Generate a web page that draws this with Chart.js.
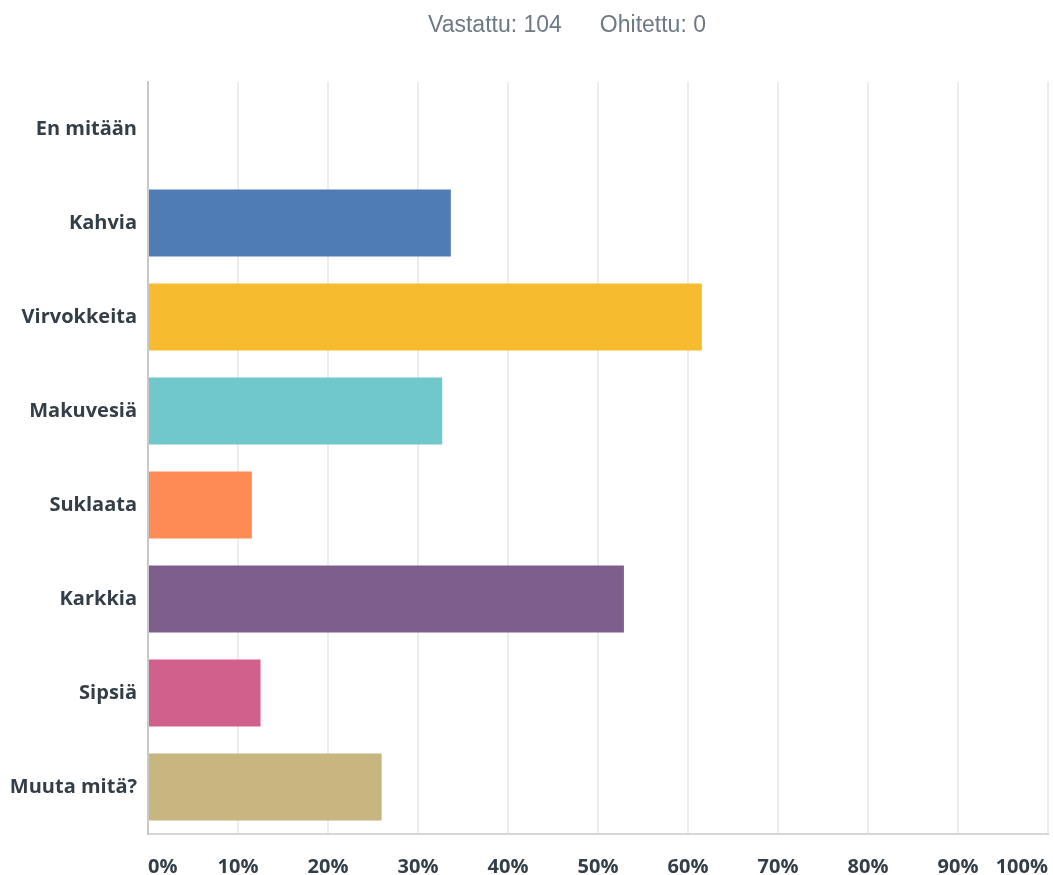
<!DOCTYPE html>
<html lang="fi">
<head>
<meta charset="utf-8">
<title>Vastaukset</title>
<script src="https://cdn.jsdelivr.net/npm/chart.js@4/dist/chart.umd.min.js"></script>
<style>
  html, body { margin: 0; padding: 0; background: #ffffff; }
  #wrap { width: 1053px; height: 875px; }
</style>
</head>
<body>
<div id="wrap"><canvas id="chart" width="1053" height="875"></canvas></div>
<script>
// Answer options
const categories = ['En mitään', 'Kahvia', 'Virvokkeita', 'Makuvesiä', 'Suklaata', 'Karkkia', 'Sipsiä', 'Muuta mitä?'];
// Share of respondents per option (%)
const percentages = [0, 33.65, 61.54, 32.69, 11.54, 52.88, 12.50, 25.96];
// One colour per option
const barColors = ['#507cb6', '#507cb6', '#f6bb2f', '#71c8cc', '#fe8b56', '#7d5e8d', '#d1618c', '#c7b67f'];
// Axis tick values
const tickValues = [0, 10, 20, 30, 40, 50, 60, 70, 80, 90, 100];
// Summary line above the chart
const summaryParts = ['Vastattu: 104', 'Ohitettu: 0'];

const summaryPlugin = {
  id: 'summary',
  afterDraw(chart) {
    const ctx = chart.ctx;
    ctx.save();
    ctx.font = '23px "Liberation Sans", Arial, sans-serif';
    ctx.fillStyle = '#6d7a85';
    ctx.textBaseline = 'alphabetic';
    ctx.textAlign = 'left';
    const gap = 38;
    const w0 = ctx.measureText(summaryParts[0]).width;
    const w1 = ctx.measureText(summaryParts[1]).width;
    const total = w0 + gap + w1;
    const cx = 567;
    const x0 = cx - total / 2;
    ctx.fillText(summaryParts[0], x0, 32);
    ctx.fillText(summaryParts[1], x0 + w0 + gap, 32);
    ctx.restore();
  }
};

const labelFont = { family: '"Open Sans", sans-serif', size: 20, weight: 'bold' };

new Chart(document.getElementById('chart'), {
  type: 'bar',
  data: {
    labels: categories,
    datasets: [{
      data: percentages,
      backgroundColor: barColors,
      borderWidth: 0,
      categoryPercentage: 1,
      barPercentage: 0.715
    }]
  },
  options: {
    indexAxis: 'y',
    responsive: false,
    animation: false,
    devicePixelRatio: 1,
    layout: { padding: { left: 0, right: 5, top: 82, bottom: 0 } },
    plugins: {
      legend: { display: false },
      tooltip: { enabled: false },
      title: { display: false }
    },
    scales: {
      x: {
        min: 0,
        max: 100,
        afterBuildTicks(axis) {
          axis.ticks = tickValues.map(v => ({ value: v }));
        },
        afterFit(axis) {
          axis.height = 41;
          axis.paddingLeft = 0;
          axis.paddingRight = 0;
        },
        grid: {
          color: '#ececec',
          lineWidth: 2,
          drawTicks: false
        },
        border: { display: true, color: '#d6d6d6', width: 2 },
        ticks: {
          align: 'inner',
          padding: 21,
          maxRotation: 0,
          autoSkip: false,
          color: '#333e48',
          font: labelFont,
          callback: v => v + '%'
        }
      },
      y: {
        afterFit(axis) {
          axis.width = 148;
          axis.paddingTop = 0;
          axis.paddingBottom = 0;
        },
        grid: { display: false, drawTicks: false },
        border: { display: true, color: '#c8c8c8', width: 2 },
        ticks: {
          padding: 11,
          color: '#333e48',
          font: labelFont
        }
      }
    }
  },
  plugins: [summaryPlugin]
});
</script>
</body>
</html>
